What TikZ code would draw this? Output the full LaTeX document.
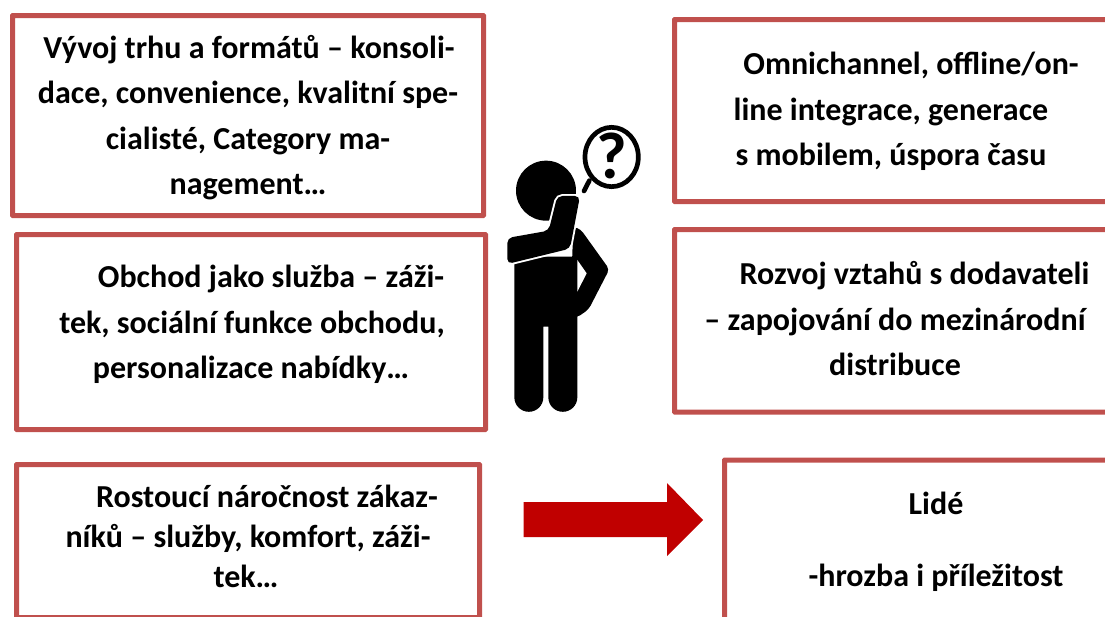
\documentclass[tikz,border=0pt]{standalone}
\usepackage{fontspec}
\setmainfont{Carlito}
\definecolor{boxred}{HTML}{C0504D}
\definecolor{arrowred}{HTML}{C00000}
\tikzset{
    textbox/.style = {draw = boxred, line width = 5pt, inner sep = 0pt, rounded corners = 0.5pt},
    boxtext/.style = {inner sep = 0pt, align = center, font = \fontsize{32}{45.5}\selectfont\bfseries},
    armshape/.style = {rounded corners = 5pt, preaction = {draw = white, line width = 3.8pt}}
}
\begin{document}
\begin{tikzpicture}[x = 1pt, y = -1pt]
    \useasboundingbox (0,0) rectangle (1105,616);
    \node[textbox, minimum width = 471pt, minimum height = 200pt] (trh) at (248,115.5) {};
    \node[textbox, minimum width = 469pt, minimum height = 195pt] (sluzba) at (251,332) {};
    \node[textbox, minimum width = 463pt, minimum height = 153pt] (narocnost) at (248,541) {};
    \node[textbox, minimum width = 433pt, minimum height = 182pt] (omni) at (891,110.5) {};
    \node[textbox, minimum width = 433pt, minimum height = 182.5pt] (vztahy) at (891,320.75) {};
    \node[textbox, minimum width = 423pt, minimum height = 160pt] (lide) at (936,540) {};
    \node[boxtext] (trhtext) at (248,117.5)
    {\hspace*{2pt}Vývoj trhu a formátů – konsoli-\\dace, convenience, kvalitní spe-\\cialisté, Category ma-\\nagement…};
    \node[boxtext] (sluzbatext) at (251,324.5)
    {\hspace*{40pt}Obchod jako služba – záži-\\\hspace*{2pt}tek, sociální funkce obchodu,\\personalizace nabídky…};
    \node[boxtext] (narocnosttext) at (248,536.5)
    {\hspace*{38pt}Rostoucí náročnost zákaz-\\[-5.5pt]níků – služby, komfort, záži-\hspace*{1pt}\\[-5.5pt]tek…\hspace*{4pt}};
    \node[boxtext] (omnitext) at (891,111.5)
    {\hspace*{40pt}Omnichannel, offline/on-\\line integrace, generace\\s mobilem, úspora času};
    \node[boxtext] (vztahytext) at (891,319)
    {\hspace*{47pt}Rozvoj vztahů s dodavateli\\\hspace*{8pt}– zapojování do mezinárodní\\\hspace*{8pt}distribuce};
    \node[boxtext] (lidetext) at (936,542)
    {Lidé\\[26.5pt]-hrozba i příležitost};
    \draw[fill = arrowred, draw = none]
    (523.5,502) -- (667,502) -- (667,483) -- (703,520) -- (667,556) -- (667,537) -- (523.5,537) -- cycle;
    \begin{scope}[shift = {(490,110)}, x = 0.3333pt, y = -0.3333pt]
        \fill (168,242) circle [radius = 90];
        \fill (73,862) -- (73,440) -- (262,440) -- (262,862) arc [start angle = 0, end angle = 180, radius = 43.5] -- (175,650) -- (160,650) -- (160,862) arc [start angle = 0, end angle = 180, radius = 43.5] -- cycle;
        \fill[rounded corners = 4pt]
        (250,350) -- (272,358) -- (358,478) -- (296,598) -- (262,622) -- (240,622) -- cycle;
        \fill[white] (262,450) -- (290,490) -- (262,545) -- cycle;
        \fill[armshape]
        (52,384) -- (176,362) -- (202,258) -- (270,258) -- (240,416) -- (52,462) -- cycle;
        \draw[line width = 4.7pt] (365,141) circle [x radius = 80, y radius = 89];
        \draw[line width = 4.7pt, line cap = round] (298,212) -- (282,243);
        \node[font = \fontsize{66}{66}\selectfont\bfseries] (frage) at (365,138) {?};
    \end{scope}
\end{tikzpicture}
\end{document}
